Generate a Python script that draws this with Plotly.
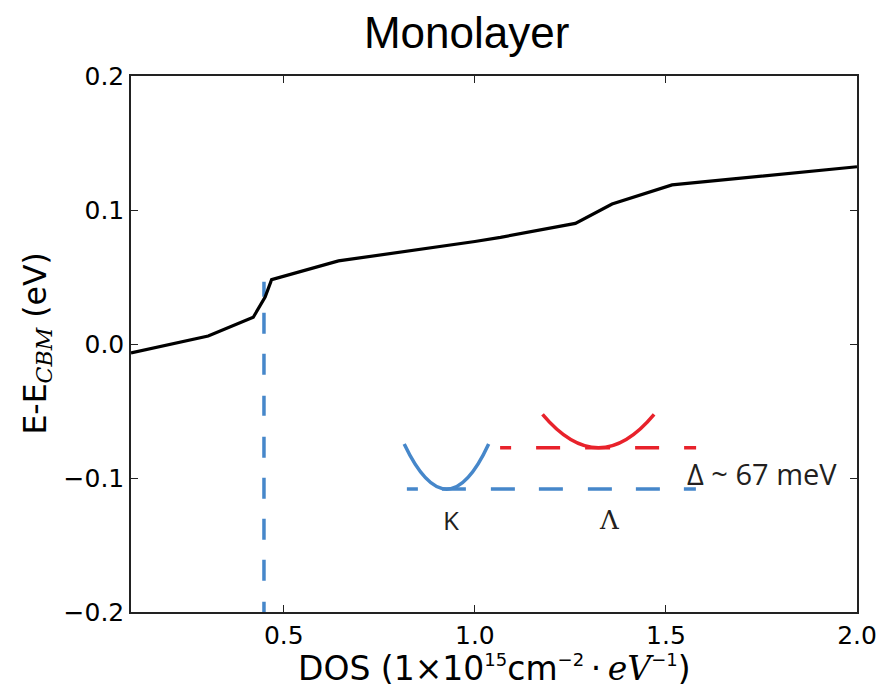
import plotly.graph_objects as go

# ---- data ----
dos_x = [0.1, 0.302, 0.420, 0.451, 0.468, 0.643, 1.0, 1.067, 1.263, 1.359, 1.516, 2.0]
energy_y = [-0.0067, 0.0060, 0.0200, 0.0350, 0.0480, 0.0620, 0.0765, 0.0796, 0.0900, 0.1045, 0.1187, 0.1323]

marker_x = [0.448, 0.448]          # blue dashed vertical marker
marker_y = [0.0465, -0.2]

k_level_x = [0.822, 1.579]         # inset: K level (blue dashed)
k_level_y = [-0.1083, -0.1083]
lam_level_x = [1.066, 1.579]       # inset: Lambda level (red dashed)
lam_level_y = [-0.0775, -0.0775]

k_band = dict(x0=0.815, x1=1.036, xmid=0.927, ytop=-0.0747, ybot=-0.1083)
lam_band = dict(x0=1.177, x1=1.469, xmid=1.324, ytop=-0.0526, ybot=-0.0775)

x_ticks = [0.5, 1.0, 1.5, 2.0]
x_ticktext = ["0.5", "1.0", "1.5", "2.0"]
y_ticks = [-0.2, -0.1, 0.0, 0.1, 0.2]
y_ticktext = ["\u22120.2", "\u22120.1", "0.0", "0.1", "0.2"]

BLUE = "#4687CA"
RED = "#E8222B"

fig = go.Figure()

fig.add_trace(go.Scatter(x=marker_x, y=marker_y, mode="lines",
                         line=dict(color=BLUE, width=3.5,
                                   dash="15px,16px,21px,20px,21px,21px,20px,21px,21px,20px,21px,20px,21px,20px,21px,21px,12px"),
                         hoverinfo="skip", showlegend=False))
fig.add_trace(go.Scatter(x=dos_x, y=energy_y, mode="lines",
                         line=dict(color="black", width=3.2), showlegend=False))

# inset schematic
fig.add_trace(go.Scatter(x=k_level_x, y=k_level_y, mode="lines",
                         line=dict(color=BLUE, width=3.5,
                                   dash="11px,24px,24px,25px,24px,24px,24px,25px,24px,24px,24px,24px,12px,40px"),
                         showlegend=False))
fig.add_trace(go.Scatter(x=lam_level_x, y=lam_level_y, mode="lines",
                         line=dict(color=RED, width=3.5,
                                   dash="11px,25px,24px,25px,25px,25px,24px,25px,12px,40px"),
                         showlegend=False))

def band_path(b):
    yc = 2 * b["ybot"] - b["ytop"]
    return f"M {b['x0']},{b['ytop']} Q {b['xmid']},{yc} {b['x1']},{b['ytop']}"

fig.add_shape(type="path", path=band_path(k_band), xref="x", yref="y",
              line=dict(color=BLUE, width=3.5))
fig.add_shape(type="path", path=band_path(lam_band), xref="x", yref="y",
              line=dict(color=RED, width=3.5))

ink = "#231F20"
fig.add_annotation(x=1.551, y=-0.0965, xref="x", yref="y", text="\u0394 ~ 67 meV",
                   showarrow=False, xanchor="left", yanchor="middle",
                   font=dict(family="Open Sans", size=29, color=ink))
fig.add_annotation(x=0.937, y=-0.131, xref="x", yref="y", text="K",
                   showarrow=False, xanchor="center", yanchor="middle",
                   font=dict(family="Open Sans", size=26, color=ink))
fig.add_annotation(x=1.351, y=-0.131, xref="x", yref="y", text="\u039b",
                   showarrow=False, xanchor="center", yanchor="middle",
                   font=dict(family="DejaVu Serif", size=26, color=ink))

# axis titles
def sup(t):
    return f"<sup><span style='font-size:18px'>{t}</span></sup>"

fig.add_annotation(x=0.5, y=-0.105, xref="paper", yref="paper",
                   text=("DOS (1\u00d710" + sup("15") + "cm" + sup("\u22122") +
                         "\u2009\u00b7\u2009<span style='font-family:DejaVu Serif'><i>eV</i></span>" +
                         sup("\u22121") + ")"),
                   showarrow=False, xanchor="center", yanchor="middle",
                   font=dict(family="DejaVu Sans", size=33, color="black"))
fig.add_annotation(x=-0.13, y=0.5, xref="paper", yref="paper", textangle=-90,
                   text="E-E<sub><span style='font-family:DejaVu Serif'><i>CBM</i></span></sub> (eV)",
                   showarrow=False, xanchor="center", yanchor="middle",
                   font=dict(family="DejaVu Sans", size=31.5, color="black"))

axis_common = dict(showline=True, linecolor="#222", linewidth=1.5, mirror="allticks",
                   ticks="inside", ticklen=7, tickwidth=1.2, tickcolor="#222",
                   showgrid=False, zeroline=False, automargin=False,
                   tickfont=dict(family="DejaVu Sans", size=25, color="black"))

fig.update_xaxes(range=[0.1, 2.0], tickvals=x_ticks, ticktext=x_ticktext, **axis_common)
fig.update_yaxes(range=[-0.2, 0.2], tickvals=y_ticks, ticktext=y_ticktext, **axis_common)

fig.update_layout(
    width=883, height=688,
    margin=dict(l=131, r=26, t=76, b=76, autoexpand=False),
    paper_bgcolor="white", plot_bgcolor="white",
    title=dict(text="Monolayer", x=0.5285, xref="container", xanchor="center",
               y=1 - 33 / 688, yref="container", yanchor="middle", automargin=False,
               font=dict(family="Liberation Sans", size=44, color="black")),
    showlegend=False,
)

fig.write_html("out.html")
